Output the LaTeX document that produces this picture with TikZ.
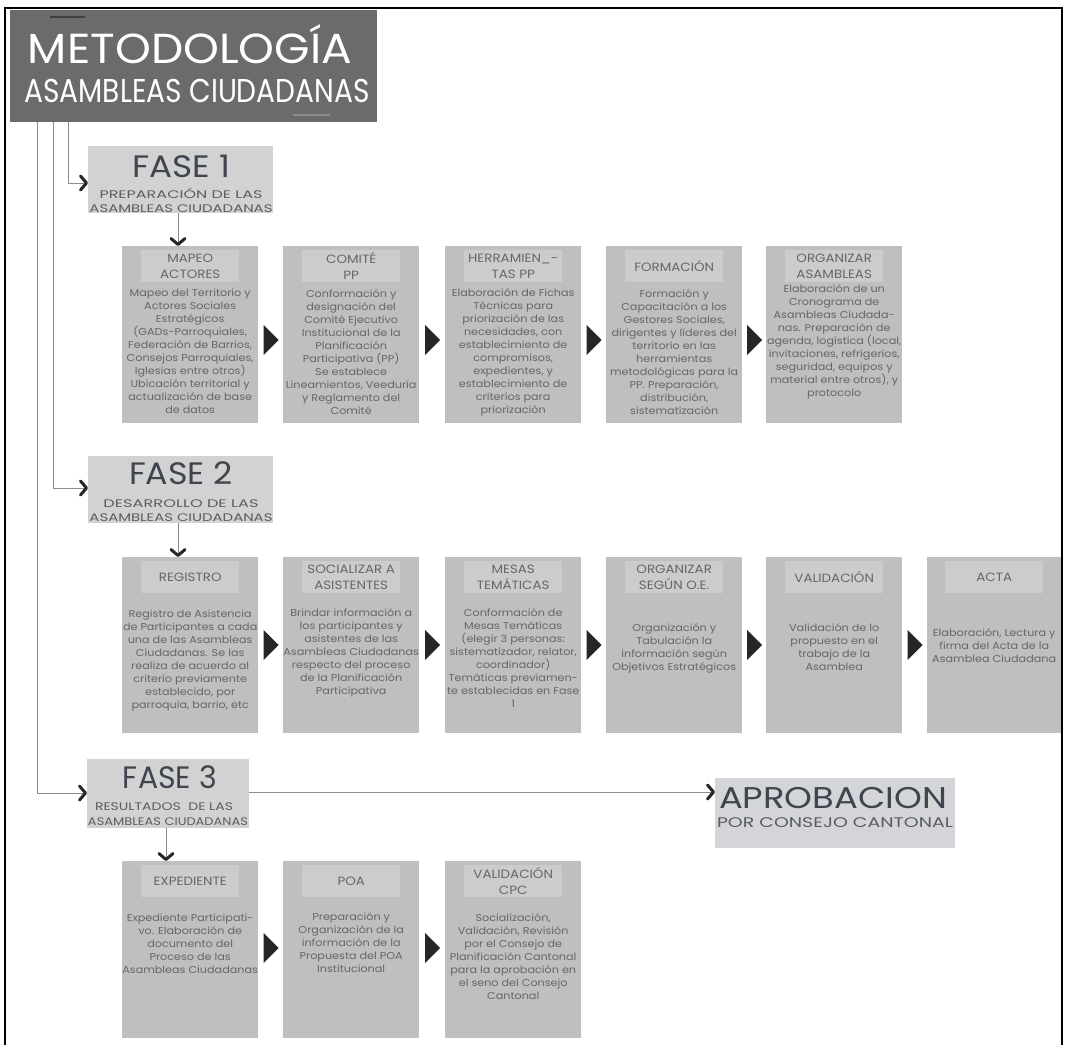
\documentclass[tikz,border=0pt]{standalone}
\usepackage{fontspec}
\setmainfont{Poppins}
\newfontfamily\bodyfont{Poppins}[FakeStretch=1.12]
\usetikzlibrary{arrows.meta,calc}
\definecolor{titlebg}{HTML}{6B6B6B}
\definecolor{fasebg}{HTML}{D2D2D2}
\definecolor{aprbg}{HTML}{D4D5D8}
\definecolor{boxbg}{HTML}{BFBFBF}
\definecolor{headbg}{HTML}{CCCCCC}
\definecolor{bodytxt}{HTML}{666666}
\definecolor{fasetxt}{HTML}{3E454E}
\definecolor{subtxt}{HTML}{5A5D62}
\definecolor{linegray}{HTML}{8C8C8C}
\definecolor{tipcol}{HTML}{262626}
\newcommand{\fitw}[3]{\resizebox{#1pt}{\height}{\fontsize{#2}{#2}\selectfont #3}}
\newcommand{\tri}[3]{\path ($(#1.east)!0.5!(#2.west)$) coordinate (tmp);
  \fill[tipcol] (tmp |- 0,#3) ++(-7,-15) -- ++(15,15) -- ++(-15,15) -- cycle;}
\begin{document}
\begin{tikzpicture}[x=1pt,y=-1pt,
  conn/.style={draw=linegray, line width=0.9pt, -{Straight Barb[length=6pt,width=14pt,line width=3pt 0 1,color=tipcol,line cap=round,line join=round]}},
  titlebox/.style={fill=titlebg, inner sep=0pt, anchor=north west},
  fasebox/.style={fill=fasebg, inner sep=0pt, anchor=north west, minimum height=67pt},
  card/.style={fill=boxbg, inner sep=0pt, anchor=north west, minimum width=136pt},
  head/.style={fill=headbg, inner sep=0pt, minimum width=98pt, minimum height=32pt, text=bodytxt, align=center, font=\bodyfont\fontsize{12}{16}\selectfont},
  body/.style={inner sep=0pt, text=bodytxt, align=center, font=\bodyfont\fontsize{10}{13}\selectfont},
  txt/.style={inner sep=0pt, anchor=base},
]
\useasboundingbox (0,0) rectangle (1065,1045);
% frame
\draw[black, line width=1.5pt] (5,1045) -- (5,8) -- (1062,8) -- (1062,1045);

% title
\node[titlebox, minimum width=367pt, minimum height=112pt] (t) at (10,10) {};
\draw[line width=2pt, color=black!75] (50,17) -- (85,17);
\draw[line width=1.5pt, color=black!45] (293,115) -- (330,115);
\node[txt, text=white] (t1) at (190,63) {\fitw{324}{42}{METODOLOGÍA}};
\node[txt, text=white] (t2) at (197,102) {\fitw{345}{33}{ASAMBLEAS CIUDADANAS}};

% fase boxes
\node[fasebox, minimum width=185pt] (f1) at (88,146) {};
\node[txt, text=fasetxt] (f1a) at (181,177) {\fitw{98}{31}{FASE 1}};
\node[txt, text=subtxt] (f1b) at (181,198) {\fitw{163}{11}{PREPARACIÓN DE LAS}};
\node[txt, text=subtxt] (f1c) at (181,212) {\fitw{183}{11}{ASAMBLEAS CIUDADANAS}};

\node[fasebox, minimum width=185pt] (f2) at (88,456) {};
\node[txt, text=fasetxt] (f2a) at (181,484) {\fitw{104}{31}{FASE 2}};
\node[txt, text=subtxt] (f2b) at (181,507) {\fitw{155}{11}{DESARROLLO DE LAS}};
\node[txt, text=subtxt] (f2c) at (181,521) {\fitw{183}{11}{ASAMBLEAS CIUDADANAS}};

\node[fasebox, minimum width=162pt, minimum height=69pt] (f3) at (87,759) {};
\node[txt, text=fasetxt] (f3a) at (170,788) {\fitw{94}{31}{FASE 3}};
\node[txt, text=subtxt] (f3b) at (164,810) {\fitw{138}{11}{RESULTADOS\ \ DE LAS}};
\node[txt, text=subtxt] (f3c) at (168,825) {\fitw{160}{11}{ASAMBLEAS CIUDADANAS}};

\node[fill=aprbg, inner sep=0pt, anchor=north west, minimum width=240pt, minimum height=70pt] (apr) at (715,778) {};
\node[txt, text=fasetxt] (apra) at (833,808) {\fitw{228}{30}{APROBACION}};
\node[txt, text=subtxt] (aprb) at (835,827) {\fitw{236}{14}{POR CONSEJO CANTONAL}};

% connectors from title
\draw[conn] (t.south -| 68,0) |- (f1.west |- 0,183);
\draw[conn] (t.south -| 53,0) |- (f2.west |- 0,488);
\draw[conn] (t.south -| 37,0) |- (f3.west |- 0,793);
\draw[conn] (f3.east |- 0,792) -- (apr.west |- 0,792);

% ---------- FASE 1 row
\node[card, minimum height=177pt] (m1) at (122,246) {};
\node[card, minimum height=177pt] (m2) at (283,246) {};
\node[card, minimum height=177pt] (m3) at (445,246) {};
\node[card, minimum height=177pt] (m4) at (606,246) {};
\node[card, minimum height=177pt] (m5) at (766,246) {};
\node[head] (m1h) at ([yshift=-20pt]m1.north) {MAPEO\\ACTORES};
\node[head] (m2h) at ([yshift=-20pt]m2.north) {COMITÉ\\PP};
\node[head] (m3h) at ([yshift=-20pt]m3.north) {HERRAMIEN\_-\\TAS PP};
\node[head] (m4h) at ([yshift=-20pt]m4.north) {FORMACIÓN};
\node[head] (m5h) at ([yshift=-20pt]m5.north) {ORGANIZAR\\ASAMBLEAS};
\node[body] (m1b) at (m1.center |- 0,351) {Mapeo del Territorio y\\Actores Sociales\\Estratégicos\\(GADs-Parroquiales,\\Federación de Barrios,\\Consejos Parroquiales,\\Iglesias entre otros)\\Ubicación territorial y\\actualización de base\\de datos};
\node[body] (m2b) at (m2.center |- 0,352) {Conformación y\\designación del\\Comité Ejecutivo\\Institucional de la\\Planificación\\Participativa (PP)\\Se establece\\Lineamientos, Veeduría\\y Reglamento del\\Comité};
\node[body] (m3b) at (m3.center |- 0,352) {Elaboración de Fichas\\Técnicas para\\priorización de las\\necesidades, con\\establecimiento de\\compromisos,\\expedientes, y\\establecimiento de\\criterios para\\priorización};
\node[body] (m4b) at (m4.center |- 0,352) {Formación y\\Capacitación a los\\Gestores Sociales,\\dirigentes y líderes del\\territorio en las\\herramientas\\metodológicas para la\\PP. Preparación,\\distribución,\\sistematización};
\node[body] (m5b) at (m5.center |- 0,342) {Elaboración de un\\Cronograma de\\Asambleas Ciudada-\\nas. Preparación de\\agenda, logística (local,\\invitaciones, refrigerios,\\seguridad, equipos y\\material entre otros), y\\protocolo};
\tri{m1}{m2}{340}
\tri{m2}{m3}{340}
\tri{m3}{m4}{340}
\tri{m4}{m5}{340}
\draw[conn] (f1.south -| 178,0) -- (m1.north -| 178,0);

% ---------- FASE 2 row
\node[card, minimum height=176pt] (r1) at (122,557) {};
\node[card, minimum height=176pt] (r2) at (283,557) {};
\node[card, minimum height=176pt] (r3) at (445,557) {};
\node[card, minimum height=176pt] (r4) at (606,557) {};
\node[card, minimum height=176pt] (r5) at (766,557) {};
\node[card, minimum height=176pt, minimum width=134pt] (r6) at (927,557) {};
\node[head] (r1h) at ([yshift=-20pt]r1.north) {REGISTRO};
\node[head] (r2h) at ([yshift=-20pt]r2.north) {SOCIALIZAR A\\ASISTENTES};
\node[head] (r3h) at ([yshift=-20pt]r3.north) {MESAS\\TEMÁTICAS};
\node[head] (r4h) at ([yshift=-20pt]r4.north) {ORGANIZAR\\SEGÚN O.E.};
\node[head] (r5h) at ([yshift=-20pt]r5.north) {VALIDACIÓN};
\node[head] (r6h) at ([yshift=-20pt]r6.north) {ACTA};
\node[body] (r1b) at (r1.center |- 0,660) {Registro de Asistencia\\de Participantes a cada\\una de las Asambleas\\Ciudadanas. Se las\\realiza de acuerdo al\\criterio previamente\\establecido, por\\parroquia, barrio, etc};
\node[body] (r2b) at (r2.center |- 0,653) {Brindar información a\\los participantes y\\asistentes de las\\Asambleas Ciudadanas\\respecto del proceso\\de la Planificación\\Participativa};
\node[body] (r3b) at (r3.center |- 0,658) {Conformación de\\Mesas Temáticas\\(elegir 3 personas:\\sistematizador, relator,\\coordinador)\\Temáticas previamen-\\te establecidas en Fase\\1};
\node[body] (r4b) at (r4.center |- 0,648) {Organización y\\Tabulación la\\información según\\Objetivos Estratégicos};
\node[body] (r5b) at (r5.center |- 0,647) {Validación de lo\\propuesto en el\\trabajo de la\\Asamblea};
\node[body] (r6b) at (r6.center |- 0,646) {Elaboración, Lectura y\\firma del Acta de la\\Asamblea Ciudadana};
\tri{r1}{r2}{645}
\tri{r2}{r3}{645}
\tri{r3}{r4}{645}
\tri{r4}{r5}{645}
\tri{r5}{r6}{645}
\draw[conn] (f2.south -| 178,0) -- (r1.north -| 178,0);

% ---------- FASE 3 row
\node[card, minimum height=177pt] (e1) at (122,861) {};
\node[card, minimum height=177pt] (e2) at (283,861) {};
\node[card, minimum height=177pt] (e3) at (445,861) {};
\node[head] (e1h) at ([yshift=-20pt]e1.north) {EXPEDIENTE};
\node[head] (e2h) at ([yshift=-20pt]e2.north) {POA};
\node[head] (e3h) at ([yshift=-20pt]e3.north) {VALIDACIÓN\\CPC};
\node[body] (e1b) at (e1.center |- 0,944) {Expediente Participati-\\vo. Elaboración de\\documento del\\Proceso de las\\Asambleas Ciudadanas};
\node[body] (e2b) at (e2.center |- 0,943) {Preparación y\\Organización de la\\información de la\\Propuesta del POA\\Institucional};
\node[body] (e3b) at (e3.center |- 0,957) {Socialización,\\Validación, Revisión\\por el Consejo de\\Planificación Cantonal\\para la aprobación en\\el seno del Consejo\\Cantonal};
\tri{e1}{e2}{948}
\tri{e2}{e3}{948}
\draw[conn] (f3.south -| 166,0) -- (e1.north -| 166,0);
\end{tikzpicture}
\end{document}
